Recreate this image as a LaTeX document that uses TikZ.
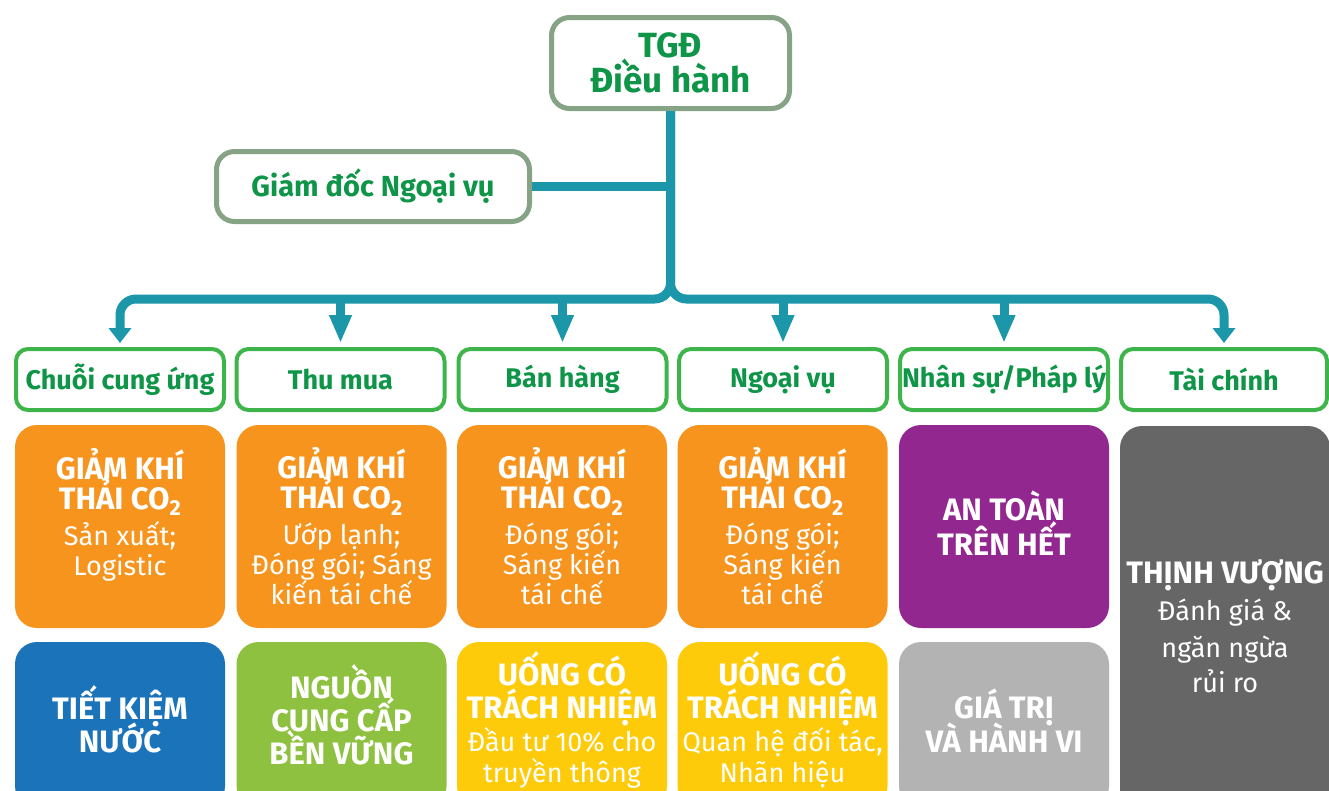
\documentclass[tikz,border=0pt]{standalone}
\usepackage{fontspec}
\setmainfont{Fira Sans}
\usetikzlibrary{arrows.meta}

\definecolor{linkteal}{RGB}{27,151,169}
\definecolor{topframe}{RGB}{134,163,133}
\definecolor{titlegreen}{RGB}{14,149,72}
\definecolor{hdrframe}{RGB}{61,181,74}
\definecolor{goalorange}{RGB}{247,148,30}
\definecolor{goalpurple}{RGB}{146,39,143}
\definecolor{goalblue}{RGB}{27,115,185}
\definecolor{goalleaf}{RGB}{141,193,63}
\definecolor{goalyellow}{RGB}{253,203,10}
\definecolor{goallight}{RGB}{179,179,179}
\definecolor{goaldark}{RGB}{102,102,102}

\newcommand\goaltitle[1]{{\fontsize{31}{33}\selectfont\bfseries #1}}
\newcommand\goalfont[1][30]{\fontsize{27}{#1}\selectfont\setlength{\lineskiplimit}{-60pt}\setlength{\lineskip}{0pt}}

\tikzset{
  topbox/.style={draw=topframe, line width=5pt, rounded corners=18pt, fill=white, text=titlegreen, align=center, inner sep=0pt},
  hdrbox/.style={draw=hdrframe, line width=4pt, rounded corners=12pt, fill=white, text=titlegreen, minimum width=208pt, minimum height=61pt, inner sep=0pt, font=\fontsize{27}{30}\selectfont\bfseries},
  goalbox/.style={rounded corners=22pt, minimum width=210pt, inner sep=0pt, text=white, align=center, font=\goalfont},
  conn/.style={draw=linkteal, line width=9pt},
  endtip/.style={-{Triangle[length=15pt,width=22pt]}, shorten >=4pt},
  midtip/.style={-{Triangle[length=28pt,width=21pt]}, shorten >=4pt}
}

\begin{document}
\begin{tikzpicture}[x=1pt, y=-1pt]
		%%%%% START %%%%%
		\useasboundingbox (0,0) rectangle (1329,790);
		\clip (0,0) rectangle (1329,790);
		
		\node[topbox, minimum width=238pt, minimum height=91pt, font=\fontsize{35}{34}\selectfont\bfseries] (tgd) at (670.5,63) {TGĐ\\Điều hành};
		\node[topbox, minimum width=313pt, minimum height=70pt, font=\fontsize{29}{30}\selectfont\bfseries] (gd) at (373,186.5) {Giám đốc Ngoại vụ};
		
		\node[hdrbox] (chuoi) at (120,379.5) {Chuỗi cung ứng};
		\node[hdrbox] (thumua) at (340.5,379.5) {Thu mua};
		\node[hdrbox] (banhang) at (562.5,379.5) {Bán hàng};
		\node[hdrbox] (ngoaivu) at (783,379.5) {Ngoại vụ};
		\node[hdrbox] (nhansu) at (1004,379.5) {Nhân sự/Pháp lý};
		\node[hdrbox, minimum width=206pt] (taichinh) at (1224,379.5) {Tài chính};
		
		\coordinate (split) at (670.5,299);
		\draw[conn] (gd.east) -- (gd.east -| split);
		\draw[conn, endtip, rounded corners=16pt] (tgd.south) -- (split) -- (split -| chuoi) -- (chuoi.north);
		\draw[conn, endtip, rounded corners=16pt] (tgd.south) -- (split) -- (split -| taichinh) -- (taichinh.north);
		\draw[conn, midtip] (split -| thumua) -- (thumua.north);
		\draw[conn, midtip] (split -| banhang) -- (banhang.north);
		\draw[conn, midtip] (split -| ngoaivu) -- (ngoaivu.north);
		\draw[conn, midtip] (split -| nhansu) -- (nhansu.north);
		
		% first row
		\node[goalbox, fill=goalorange, minimum height=203pt] (co2a) at (120,526.5) {\goaltitle{GIẢM KHÍ}\\\goaltitle{THẢI CO\textsubscript{2}}\\[6pt]Sản xuất;\\Logistic\\\mbox{}};
		\node[goalbox, fill=goalorange, minimum height=203pt] (co2b) at (341.5,526.5) {\goaltitle{GIẢM KHÍ}\\\goaltitle{THẢI CO\textsubscript{2}}\\[6pt]Ướp lạnh;\\Đóng gói; Sáng\\kiến tái chế};
		\node[goalbox, fill=goalorange, minimum height=203pt] (co2c) at (562,526.5) {\goaltitle{GIẢM KHÍ}\\\goaltitle{THẢI CO\textsubscript{2}}\\[6pt]Đóng gói;\\Sáng kiến\\tái chế};
		\node[goalbox, fill=goalorange, minimum height=203pt] (co2d) at (782.5,526.5) {\goaltitle{GIẢM KHÍ}\\\goaltitle{THẢI CO\textsubscript{2}}\\[6pt]Đóng gói;\\Sáng kiến\\tái chế};
		\node[goalbox, fill=goalpurple, minimum height=203pt, text depth=6pt] (antoan) at (1004,526.5) {\goaltitle{AN TOÀN}\\[5pt]\goaltitle{TRÊN HẾT}};
		\node[goalbox, fill=goaldark, minimum height=400pt, font={\goalfont[37]}] (thinh) at (1225,626) {\goaltitle{THỊNH VƯỢNG}\\Đánh giá \&\\ngăn ngừa\\[-2pt]rủi ro};
		
		% second row
		\node[goalbox, fill=goalblue, minimum height=166pt, text depth=12pt] (nuoc) at (120,725) {\goaltitle{TIẾT KIỆM}\\[3pt]\goaltitle{NƯỚC}};
		\node[goalbox, fill=goalleaf, minimum height=166pt, text depth=20pt] (nguon) at (341.5,725) {\goaltitle{NGUỒN}\\[3pt]\goaltitle{CUNG CẤP}\\[3pt]\goaltitle{BỀN VỮNG}};
		\node[goalbox, fill=goalyellow, minimum height=166pt, text depth=16pt] (uonga) at (562,725) {\goaltitle{UỐNG CÓ}\\[3pt]\goaltitle{TRÁCH NHIỆM}\\[3pt]Đầu tư 10\% cho\\[1pt]truyền thông};
		\node[goalbox, fill=goalyellow, minimum height=166pt, text depth=16pt] (uongb) at (782.5,725) {\goaltitle{UỐNG CÓ}\\[3pt]\goaltitle{TRÁCH NHIỆM}\\[3pt]Quan hệ đối tác,\\[1pt]Nhãn hiệu};
		\node[goalbox, fill=goallight, minimum height=166pt, text depth=8pt] (giatri) at (1004,725) {\goaltitle{GIÁ TRỊ}\\[4pt]\goaltitle{VÀ HÀNH VI}};
		%%%%% END %%%%%
\end{tikzpicture}
\end{document}
